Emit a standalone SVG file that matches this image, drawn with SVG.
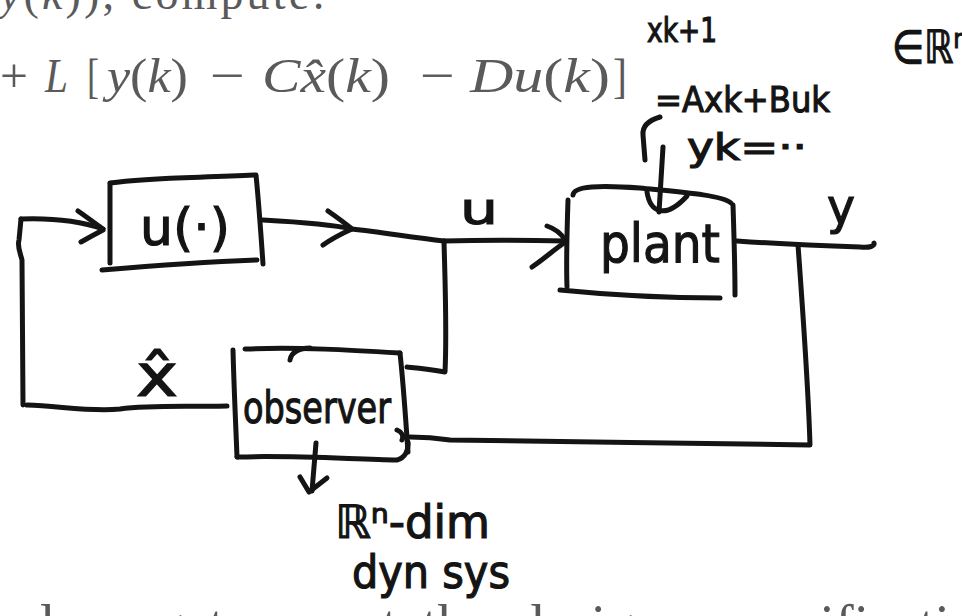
<svg xmlns="http://www.w3.org/2000/svg" width="962" height="616" viewBox="0 0 962 616">
  <style>
    .print { fill: #5a5a5a; font-family: "Liberation Serif", "DejaVu Serif", serif; }
    .math { font-style: italic; }
    .ink { fill: none; stroke: #141414; stroke-width: 5; stroke-linecap: round; stroke-linejoin: round; }
    .hand { fill: #141414; stroke: #141414; stroke-width: 1.2; font-family: "DejaVu Sans", "Noto Sans", sans-serif; }
  </style>

  <rect width="962" height="616" fill="#ffffff"/>

  <!-- printed page text behind the sketch -->
  <g id="page-text">
    <text class="print" x="0" y="9" font-size="46" textLength="325" lengthAdjust="spacing"><tspan class="math">y</tspan>(<tspan class="math">k</tspan>)), compute:</text>
    <g font-size="49">
      <text class="print" x="0" y="92" textLength="28" lengthAdjust="spacingAndGlyphs">+</text>
      <text class="print math" x="45" y="92" textLength="23" lengthAdjust="spacingAndGlyphs">L</text>
      <text class="print" x="87" y="92" textLength="12" lengthAdjust="spacingAndGlyphs">[</text>
      <text class="print" x="107" y="92" textLength="81" lengthAdjust="spacingAndGlyphs"><tspan class="math">y</tspan>(<tspan class="math">k</tspan>)</text>
      <text class="print" x="210" y="92" textLength="35" lengthAdjust="spacingAndGlyphs">−</text>
      <text class="print" x="262" y="92" textLength="128" lengthAdjust="spacingAndGlyphs"><tspan class="math">Cx̂</tspan>(<tspan class="math">k</tspan>)</text>
      <text class="print" x="420" y="92" textLength="35" lengthAdjust="spacingAndGlyphs">−</text>
      <text class="print" x="470" y="92" textLength="140" lengthAdjust="spacingAndGlyphs"><tspan class="math">Du</tspan>(<tspan class="math">k</tspan>)</text>
      <text class="print" x="613" y="92" textLength="14" lengthAdjust="spacingAndGlyphs">]</text>
    </g>
    <text class="print" font-size="56" y="644"><tspan x="-27">and</tspan><tspan x="68">we</tspan><tspan x="156">get</tspan><tspan x="238">error</tspan><tspan x="357">at</tspan><tspan x="422">the</tspan><tspan x="516">design</tspan><tspan x="720">specification</tspan></text>
  </g>

  <!-- controller block -->
  <g id="controller">
    <path class="ink" d="M110,183 C150,177 200,178 254,175"/>
    <path class="ink" d="M256,175 C259,205 261,235 263,264"/>
    <path class="ink" d="M102,270 C150,266 205,262 257,260"/>
    <path class="ink" d="M110,184 L110,263"/>
    <text class="hand" x="140" y="245" font-size="52" textLength="90" lengthAdjust="spacingAndGlyphs">u(·)</text>
  </g>

  <!-- plant block -->
  <g id="plant">
    <path class="ink" d="M573,195 C574,186 600,185 640,188 C680,192 722,195 731,203"/>
    <path class="ink" d="M568,200 C567,230 566,260 567,287"/>
    <path class="ink" d="M733,205 C734,235 735,265 735,295"/>
    <path class="ink" d="M560,290 C620,296 680,298 720,298"/>
    <text class="hand" x="600" y="262" font-size="54" textLength="120" lengthAdjust="spacingAndGlyphs">plant</text>
  </g>

  <!-- observer block -->
  <g id="observer">
    <path class="ink" d="M233,350 C234,390 236,430 237,457"/>
    <path class="ink" d="M245,349 C300,347 350,350 400,353"/>
    <path class="ink" d="M290,360 C291,352 300,348 310,348"/>
    <path class="ink" d="M400,353 C404,390 406,425 408,452"/>
    <path class="ink" d="M237,457 C300,455 360,460 397,460 C405,458 409,450 408,442"/>
    <path class="ink" d="M397,430 C402,432 404,436 402,440"/>
    <text class="hand" x="243" y="423" font-size="44" textLength="148" lengthAdjust="spacingAndGlyphs">observer</text>
  </g>

  <!-- signal lines and arrowheads -->
  <g id="connectors">
    <!-- estimate fed back to the controller -->
    <path class="ink" d="M227,406 C180,407 150,405 120,409 C90,412 60,406 27,405"/>
    <path class="ink" d="M23,405 L22,260 C20,252 17,246 19,240 L21,219"/>
    <path class="ink" d="M21,219 C50,218 80,221 103,229"/>
    <path class="ink" d="M78,211 C88,218 96,224 103,229 M81,242 C90,237 97,233 103,230"/>
    <!-- controller output u -->
    <path class="ink" d="M263,220 C300,222 330,224 352,229 C380,232 410,237 444,241"/>
    <path class="ink" d="M328,211 C338,218 346,224 352,229 M323,245 C333,238 343,233 352,229"/>
    <!-- u into plant -->
    <path class="ink" d="M444,241 C480,240 520,240 566,241"/>
    <path class="ink" d="M547,226 C556,229 561,233 565,240 M532,267 C545,258 555,249 564,243"/>
    <!-- u down to observer -->
    <path class="ink" d="M444,241 C445,280 447,330 445,372 C430,369 418,368 407,367"/>
    <!-- plant output y -->
    <path class="ink" d="M737,241 C780,244 830,246 860,247 C870,248 875,246 874,243"/>
    <!-- y tapped back to observer -->
    <path class="ink" d="M798,245 C802,300 808,380 810,445 C700,443 560,442 450,440 C430,437 418,437 410,437"/>
    <!-- model equations pointing into plant -->
    <path class="ink" d="M663,147 L659,212"/>
    <path class="ink" d="M647,192 C650,212 665,220 687,196"/>
    <path class="ink" d="M660,117 C650,120 642,125 643,135 L645,160"/>
    <!-- observer state dimension note -->
    <path class="ink" d="M316,443 L312,491"/>
    <path class="ink" d="M300,477 L309,492 L327,478"/>
  </g>

  <!-- handwritten annotations -->
  <g id="labels">
    <text class="hand" x="460" y="224" font-size="44" textLength="38" lengthAdjust="spacingAndGlyphs">u</text>
    <text class="hand" x="827" y="224" font-size="50" textLength="28" lengthAdjust="spacingAndGlyphs">y</text>
    <text class="hand" x="136" y="396" font-size="58" textLength="42" lengthAdjust="spacingAndGlyphs">x̂</text>
    <text class="hand" x="647" y="42" font-size="33" textLength="70" lengthAdjust="spacingAndGlyphs">xk+1</text>
    <text class="hand" x="655" y="112" font-size="36" textLength="175" lengthAdjust="spacingAndGlyphs">=Axk+Buk</text>
    <text class="hand" x="687" y="160" font-size="38" textLength="120" lengthAdjust="spacingAndGlyphs">yk=··</text>
    <text class="hand" x="892" y="63" font-size="46" textLength="76" lengthAdjust="spacingAndGlyphs">∈ℝⁿ</text>
    <text class="hand" x="335" y="538" font-size="46" textLength="155" lengthAdjust="spacingAndGlyphs">ℝⁿ-dim</text>
    <text class="hand" x="352" y="588" font-size="46" textLength="158" lengthAdjust="spacingAndGlyphs">dyn sys</text>
  </g>
</svg>
